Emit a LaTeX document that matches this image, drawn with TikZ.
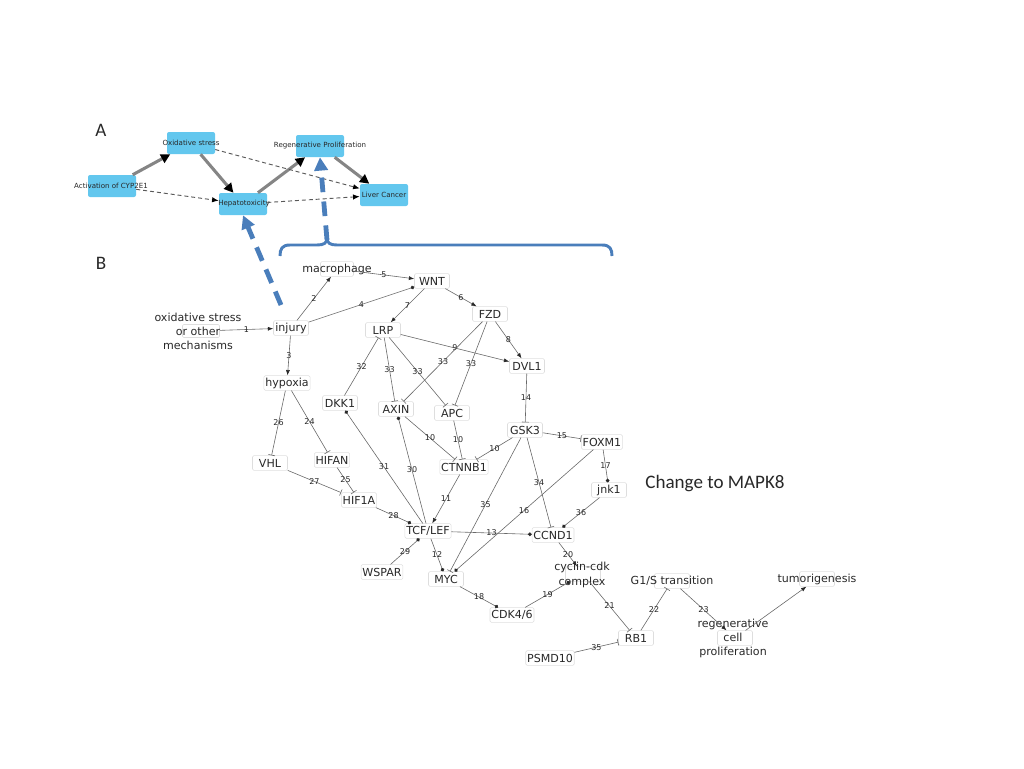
\documentclass[tikz,border=0pt]{standalone}
\usepackage{fontspec}
\setmainfont{DejaVu Sans}
\newfontfamily\calfont{Carlito}
\usetikzlibrary{arrows.meta}
\definecolor{boxblue}{RGB}{99,199,238}
\definecolor{lineg}{RGB}{105,105,105}
\definecolor{txtg}{RGB}{40,40,40}
\definecolor{bluec}{RGB}{74,126,187}
\begin{document}
\begin{tikzpicture}[x=0.75pt,y=-0.75pt,
  abox/.style={fill=boxblue, rounded corners=1.5pt, minimum width=36pt, minimum height=16.5pt, inner sep=0pt},
  atxt/.style={font=\fontsize{5.3}{6}\selectfont, text=txtg, inner sep=0pt},
  tharr/.style={draw=black!48, line width=2.3pt, -{Triangle[length=7pt,width=7pt,color=black]}},
  dsharr/.style={draw=black!65, line width=0.7pt, dash pattern=on 3pt off 2.2pt, -{Latex[length=5pt,width=4pt,color=black]}},
  bluearr/.style={draw=bluec, line width=3.6pt, dash pattern=on 11pt off 7pt, -{Triangle[length=10pt,width=10pt]}},
  nb/.style={draw=black!13, line width=0.4pt, rounded corners=1pt, minimum width=26.25pt, minimum height=11pt, inner xsep=1pt, inner ysep=0pt, font=\fontsize{8.3}{10}\selectfont, text=txtg},
  ntxt/.style={font=\fontsize{8.3}{10.5}\selectfont, text=txtg, inner sep=0pt, align=center},
  ed/.style={draw=lineg, line width=0.45pt},
  ar/.style={ed, -{Latex[length=4pt,width=3pt,color=txtg]}},
  tb/.style={ed, -{Bar[width=5pt]}},
  dt/.style={ed, -{Circle[length=2.8pt,color=txtg]}},
  el/.style={font=\fontsize{6}{7}\selectfont, text=txtg, inner sep=0pt},
  big/.style={font=\calfont\fontsize{14.3}{16}\selectfont, text=txtg, inner sep=0pt}
]
\useasboundingbox (0,0) rectangle (1024,768);

% ---------- Panel A ----------
\node[big] (labA) at (101,130) {A};
\node[abox] (cyp) at (112,186) {};
\node[atxt] (cypt) at (111,186) {Activation of CYP2E1};
\node[abox] (oxs) at (191,143) {};
\node[atxt] (oxst) at (191,143) {Oxidative stress};
\node[abox] (hep) at (243,204) {};
\node[atxt] (hept) at (244,204) {Hepatotoxicity};
\node[abox] (reg0) at (320,146) {};
\node[atxt] (reg0t) at (320,146) {Regenerative Proliferation};
\node[abox] (lc) at (384,195) {};
\node[atxt] (lct) at (384,195) {Liver Cancer};

\draw[tharr] (cyp) -- (oxs);
\draw[tharr] (oxs) -- (hep);
\draw[tharr] (hep) -- (reg0);
\draw[tharr] (reg0) -- (lc);
\draw[dsharr] (cyp) -- (hep);
\draw[dsharr] (oxs) -- (lc);
\draw[dsharr] (hep) -- (lc);

% brace and blue arrows
\draw[bluec, line width=2.2pt] (280,256) .. controls (280,249) and (282,245) .. (290,245) -- (317,245) .. controls (324,245) and (327,243) .. (327,238)
  .. controls (327,243) and (330,245) .. (337,245) -- (602,245) .. controls (610,245) and (612,249) .. (612,256);
\coordinate (bs1) at (281,305);
\coordinate (bs2) at (327,240);
\draw[bluearr] (bs1) -- (hep.south);
\draw[bluearr] (bs2) -- (reg0.south);

% ---------- Panel B ----------
\node[big] (labB) at (101,263) {B};
\node[big] (mapk) at (715,484) {Change to MAPK8};

\node[nb, minimum width=27.75pt, minimum height=9.75pt] (ox) at (201,331) {};
\node[ntxt] (oxt) at (198,331) {oxidative stress\\or other\\mechanisms};
\node[nb] (inj) at (291,328) {injury};
\node[nb, minimum width=24.75pt] (mac) at (337,269) {};
\node[ntxt] (mact) at (337,269) {macrophage};
\node[nb] (wnt) at (432,281) {WNT};
\node[nb] (lrp) at (383,330) {LRP};
\node[nb] (fzd) at (490,314) {FZD};
\node[nb] (dvl) at (527,366) {DVL1};
\node[nb] (hyp) at (287,383) {hypoxia};
\node[nb] (dkk) at (340,403) {DKK1};
\node[nb] (axin) at (396,409) {AXIN};
\node[nb] (apc) at (452,413) {APC};
\node[nb] (vhl) at (270,463) {VHL};
\node[nb] (hifan) at (332,460) {HIFAN};
\node[nb] (hif) at (359,500) {HIF1A};
\node[nb] (ctn) at (464,467) {CTNNB1};
\node[nb] (tcf) at (428,531) {TCF/LEF};
\node[nb] (wsp) at (382,572) {WSPAR};
\node[nb] (myc) at (446,579) {MYC};
\node[nb] (gsk) at (525,430) {GSK3};
\node[nb] (fox) at (602,442) {FOXM1};
\node[nb] (jnk) at (609,490) {jnk1};
\node[nb] (ccn) at (553,535) {CCND1};
\node[nb] (cyc) at (583,574) {};
\node[ntxt, font=\fontsize{8.3}{11.25}\selectfont] (cyct) at (582,574.5) {cyclin-cdk\\complex};
\node[nb] (cdk) at (512,615) {CDK4/6};
\node[nb] (rb) at (636,638) {RB1};
\node[nb] (psm) at (550,658) {PSMD10};
\node[nb] (g1s) at (672,581) {};
\node[ntxt] (g1st) at (672,581) {G1/S transition};
\node[nb] (reg) at (735,638) {};
\node[ntxt] (regt) at (733,638) {regenerative\\cell\\proliferation};
\node[nb] (tum) at (817,579) {};
\node[ntxt] (tumt) at (817,579) {tumorigenesis};

% edges
\draw[ar] (ox) -- node[el]{1} (inj);
\draw[ar] (inj) -- node[el]{2} (mac);
\draw[ar] (inj) -- node[el]{3} (hyp);
\draw[dt] (inj) -- node[el]{4} (wnt);
\draw[ar] (mac) -- node[el]{5} (wnt);
\draw[ar] (wnt) -- node[el]{6} (fzd);
\draw[ar] (wnt) -- node[el]{7} (lrp);
\draw[ar] (fzd) -- node[el]{8} (dvl);
\draw[ar] (lrp) -- node[el]{9} (dvl);
\draw[tb] (dkk) -- node[el]{32} (lrp);
\draw[tb] (lrp) -- node[el]{33} (axin);
\draw[tb] (lrp) -- node[el]{33} (apc);
\draw[tb] (fzd) -- node[el]{33} (axin);
\draw[tb] (fzd) -- node[el]{33} (apc);
\draw[tb] (dvl) -- node[el]{14} (gsk);
\draw[tb] (axin) -- node[el]{10} (ctn);
\draw[tb] (apc) -- node[el]{10} (ctn);
\draw[tb] (gsk) -- node[el]{10} (ctn);
\draw[tb] (gsk) -- node[el]{15} (fox);
\draw[dt] (fox) -- node[el]{17} (jnk);
\draw[dt] (jnk) -- node[el]{36} (ccn);
\draw[tb] (gsk) -- node[el]{34} (ccn);
\draw[tb] (gsk) -- node[el]{35} (myc);
\draw[dt] (fox) -- node[el]{16} (myc);
\draw[ar] (ctn) -- node[el]{11} (tcf);
\draw[dt] (tcf) -- node[el]{31} (dkk);
\draw[dt] (tcf) -- node[el]{30} (axin);
\draw[dt] (hif) -- node[el]{28} (tcf);
\draw[dt] (wsp) -- node[el]{29} (tcf);
\draw[dt] (tcf) -- node[el]{12} (myc);
\draw[dt] (tcf) -- node[el]{13} (ccn);
\draw[tb] (hyp) -- node[el]{26} (vhl);
\draw[tb] (hyp) -- node[el]{24} (hifan);
\draw[tb] (vhl) -- node[el]{27} (hif);
\draw[tb] (hifan) -- node[el]{25} (hif);
\draw[dt] (myc) -- node[el]{18} (cdk);
\draw[dt] (cdk) -- node[el]{19} (cyc);
\draw[ar] (ccn) -- node[el]{20} (cyc);
\draw[tb] (cyc) -- node[el]{21} (rb);
\draw[tb] (rb) -- node[el]{22} (g1s);
\draw[ar] (g1s) -- node[el]{23} (reg);
\draw[tb] (psm) -- node[el]{35} (rb);
\draw[ar] (reg) -- (tum);
\end{tikzpicture}
\end{document}
